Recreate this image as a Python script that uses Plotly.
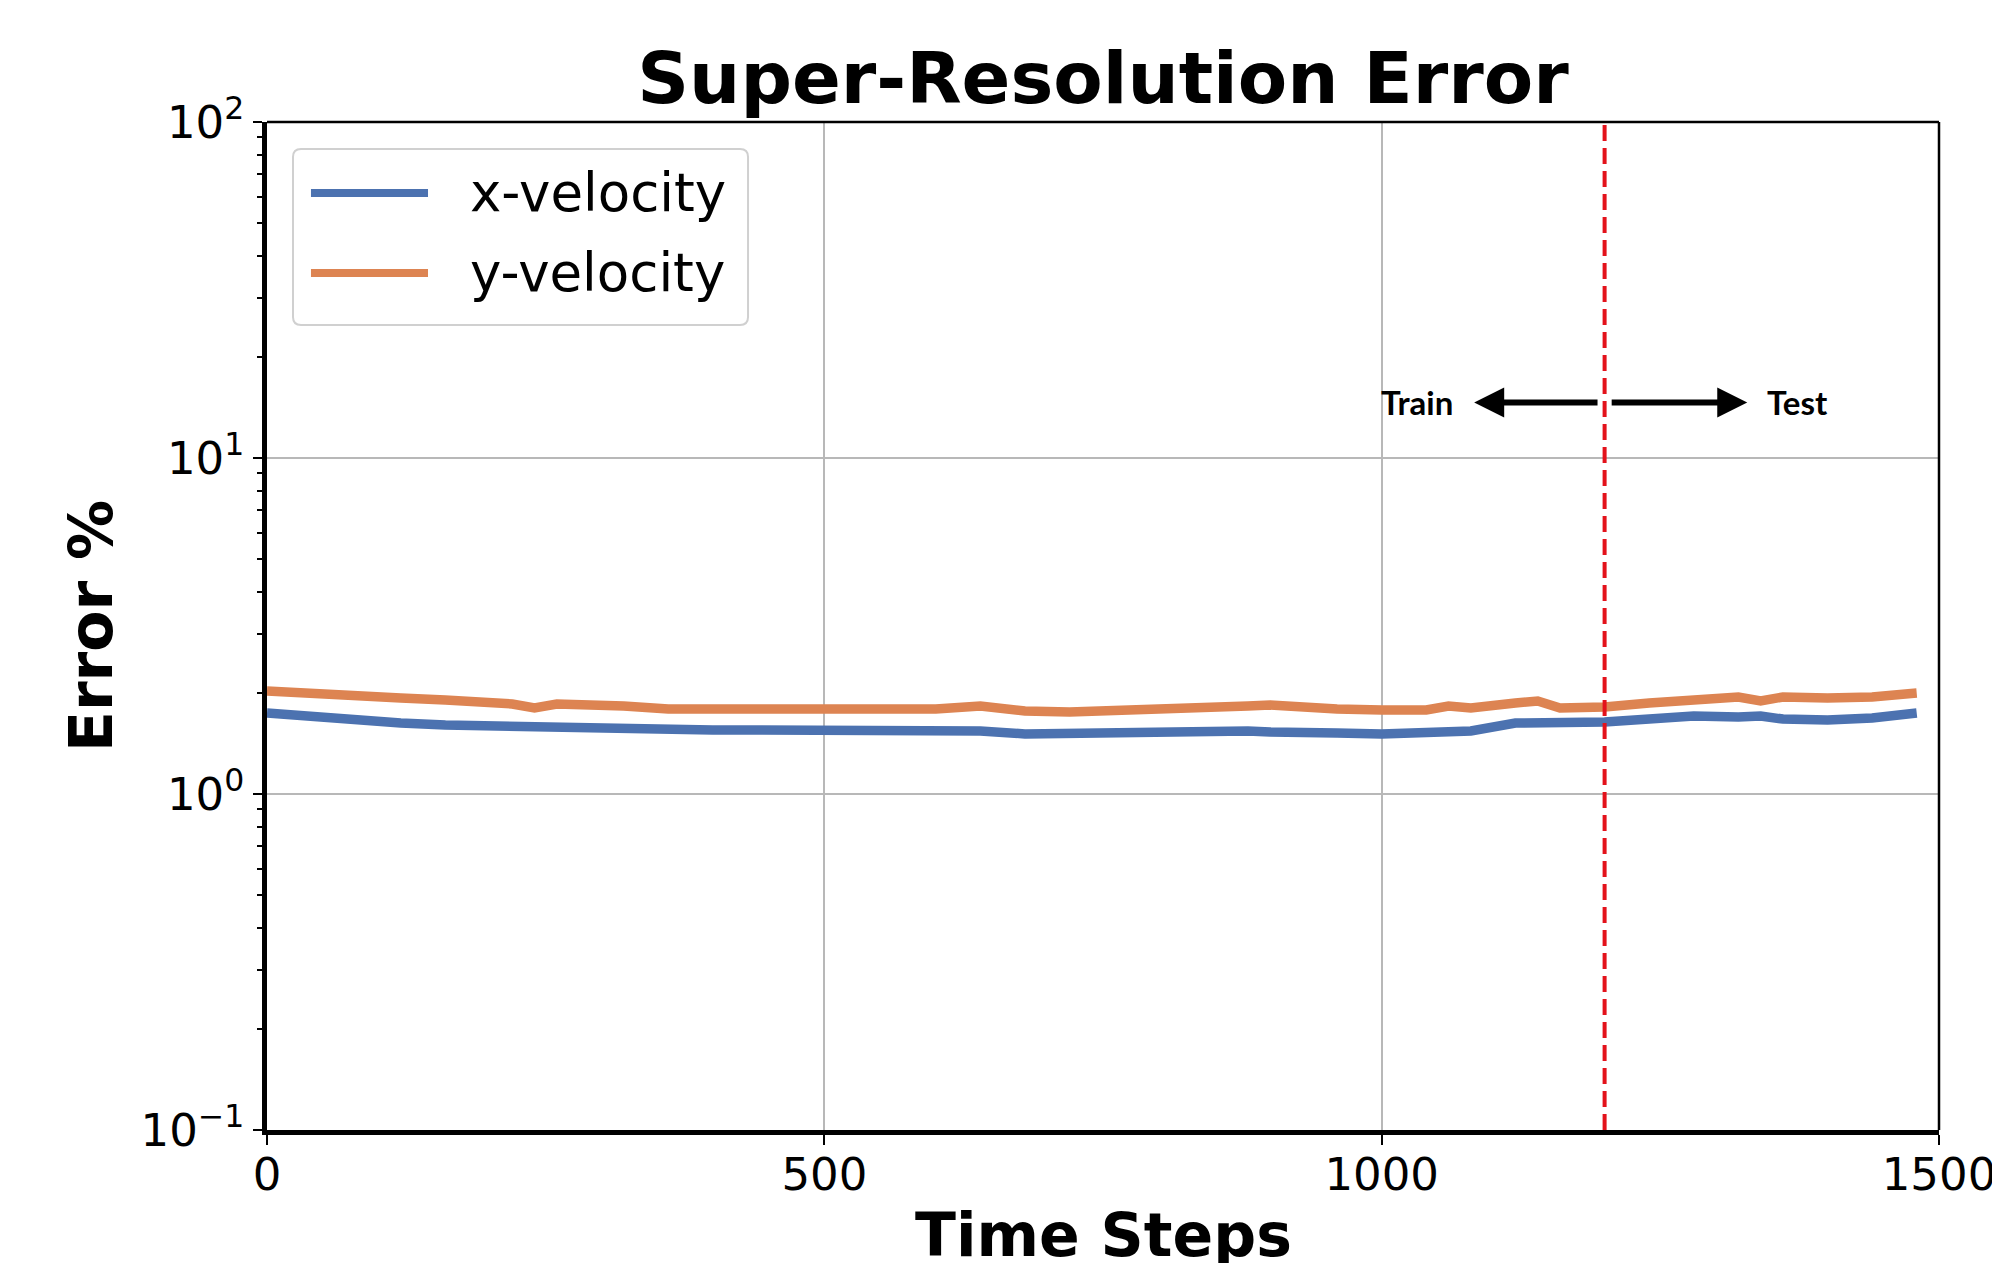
import plotly.graph_objects as go

# ---- data ----
time_steps = [0, 40, 80, 120, 160, 200, 220, 240, 260, 320, 360, 400, 440, 480, 520,
              560, 600, 640, 680, 720, 760, 800, 840, 880, 900, 920, 960, 1000, 1040,
              1060, 1080, 1120, 1140, 1160, 1200, 1240, 1280, 1320, 1340, 1360, 1400,
              1440, 1480]
x_velocity = [1.742, 1.694, 1.649, 1.626, 1.604, 1.593, 1.582, 1.571, 1.571, 1.571, 1.561,
              1.550, 1.550, 1.550, 1.550, 1.540, 1.540, 1.540, 1.509, 1.519, 1.529, 1.540,
              1.540, 1.540, 1.529, 1.519, 1.519, 1.509, 1.519, 1.519, 1.540, 1.626, 1.626,
              1.615, 1.637, 1.671, 1.706, 1.694, 1.706, 1.671, 1.660, 1.683, 1.742]
y_velocity = [2.025, 1.984, 1.957, 1.930, 1.904, 1.878, 1.853, 1.803, 1.853, 1.828, 1.791,
              1.791, 1.791, 1.778, 1.766, 1.766, 1.791, 1.828, 1.766, 1.754, 1.766, 1.803,
              1.815, 1.828, 1.840, 1.815, 1.791, 1.778, 1.778, 1.828, 1.803, 1.866, 1.891,
              1.803, 1.815, 1.866, 1.917, 1.944, 1.891, 1.944, 1.930, 1.944, 1.997]
series_names = ["x-velocity", "y-velocity"]
split_step = 1200
x_tick_vals = [0, 500, 1000, 1500]
y_tick_vals = [0.1, 1, 10, 100]
y_tick_text = ["10<sup>\u22121</sup>", "10<sup>0</sup>", "10<sup>1</sup>", "10<sup>2</sup>"]

BLUE = "#4C72B0"
ORANGE = "#DD8452"
FONT = "DejaVu Sans"

fig = go.Figure()
fig.add_trace(go.Scatter(x=time_steps, y=x_velocity, mode="lines", name=series_names[0],
                         line=dict(color=BLUE, width=9.5), showlegend=False))
fig.add_trace(go.Scatter(x=time_steps, y=y_velocity, mode="lines", name=series_names[1],
                         line=dict(color=ORANGE, width=9.5), showlegend=False))

# train/test split line
fig.add_shape(type="line", xref="x", yref="paper", x0=split_step, x1=split_step, y0=0, y1=1,
              line=dict(color="#E3121B", width=4, dash="16px,7px"))

# top / right spines (thin)
fig.add_shape(type="line", xref="paper", yref="paper", x0=0, x1=1, y0=1, y1=1,
              line=dict(color="black", width=2.5))
fig.add_shape(type="line", xref="paper", yref="paper", x0=1, x1=1, y0=0, y1=1,
              line=dict(color="black", width=2.5))

# legend box (manual, matplotlib style)
x0, x1, y0, y1 = 0.01555, 0.2877, 0.7986, 0.9732
rx, ry = 0.0048, 0.0079
path = (f"M{x0+rx},{y0} L{x1-rx},{y0} Q{x1},{y0} {x1},{y0+ry} L{x1},{y1-ry} "
        f"Q{x1},{y1} {x1-rx},{y1} L{x0+rx},{y1} Q{x0},{y1} {x0},{y1-ry} "
        f"L{x0},{y0+ry} Q{x0},{y0} {x0+rx},{y0} Z")
fig.add_shape(type="path", xref="paper", yref="paper", path=path,
              line=dict(color="#d0d0d0", width=2), fillcolor="rgba(255,255,255,0.85)")
for ly, col, name in [(0.9296, BLUE, series_names[0]), (0.8502, ORANGE, series_names[1])]:
    fig.add_shape(type="line", xref="paper", yref="paper", x0=0.0263, x1=0.0963, y0=ly, y1=ly,
                  line=dict(color=col, width=8))
    fig.add_annotation(xref="paper", yref="paper", x=0.1202, y=ly, text=name, showarrow=False,
                       xanchor="left", yanchor="middle",
                       font=dict(family=FONT, size=53, color="black"))

# Train / Test arrows
arrow_y = 1.1652  # log10 units on the log axis
fig.add_annotation(x=1083, y=arrow_y, ax=1195, ay=arrow_y, xref="x", yref="y", axref="x", ayref="y",
                   text="", showarrow=True, arrowhead=2, arrowsize=1.0, arrowwidth=6, arrowcolor="black")
fig.add_annotation(x=1328, y=arrow_y, ax=1205, ay=arrow_y, xref="x", yref="y", axref="x", ayref="y",
                   text="", showarrow=True, arrowhead=2, arrowsize=1.0, arrowwidth=6, arrowcolor="black")
fig.add_annotation(x=1032, y=arrow_y, xref="x", yref="y", text="<b>Train</b>", showarrow=False,
                   font=dict(family="Lato", size=33, color="black"))
fig.add_annotation(x=1373, y=arrow_y, xref="x", yref="y", text="<b>Test</b>", showarrow=False,
                   font=dict(family="Lato", size=33, color="black"))

# x-axis title (placed as annotation so it can sit at the page bottom like the reference)
fig.add_annotation(xref="paper", yref="paper", x=0.5, y=-0.1042, xanchor="center", yanchor="middle",
                   text="<b>Time Steps</b>", showarrow=False,
                   font=dict(family=FONT, size=60, color="black"))

fig.update_layout(
    width=1992, height=1263,
    margin=dict(l=267, r=53, t=122, b=133, autoexpand=False),
    plot_bgcolor="white", paper_bgcolor="white",
    font=dict(family=FONT, color="black"),
    title=dict(text="<b>Super-Resolution Error</b>", xref="paper", x=0.5, xanchor="center",
               yref="container", y=1 - 78 / 1263, yanchor="middle",
               font=dict(family=FONT, size=72, color="black"), automargin=False),
    xaxis=dict(range=[0, 1500], tickvals=x_tick_vals, ticktext=[str(v) for v in x_tick_vals],
               showline=True, linecolor="black", linewidth=4.5, automargin=False,
               ticklabeloverflow="allow", ticklabelstandoff=-9,
               ticks="outside", ticklen=10, tickwidth=2, tickcolor="black",
               showgrid=True, gridcolor="#b8b8b8", gridwidth=1.5, zeroline=False,
               tickfont=dict(family=FONT, size=45, color="black")),
    yaxis=dict(type="log", range=[-1, 2], tickvals=y_tick_vals, ticktext=y_tick_text,
               showline=True, linecolor="black", linewidth=4.5, automargin=False,
               ticks="outside", ticklen=9, tickwidth=2, tickcolor="black",
               minor=dict(ticks="outside", ticklen=5, tickwidth=1.5, tickcolor="black",
                          dtick="D1", showgrid=False),
               showgrid=True, gridcolor="#b8b8b8", gridwidth=1.5, zeroline=False,
               tickfont=dict(family=FONT, size=45, color="black"),
               title=dict(text="<b>Error %</b>", font=dict(family=FONT, size=60, color="black"),
                          standoff=10)),
)

fig.write_html("out.html")
